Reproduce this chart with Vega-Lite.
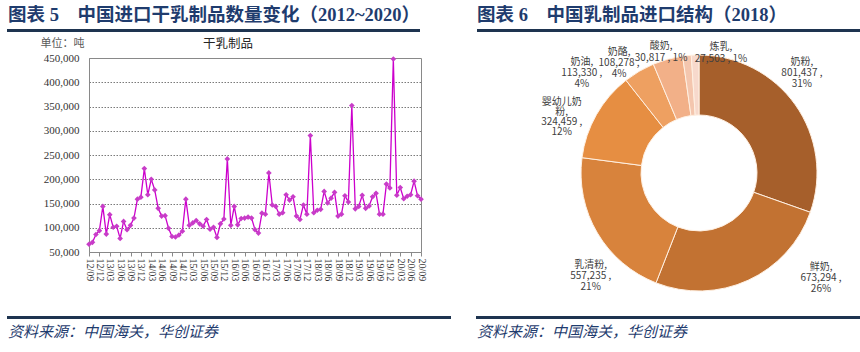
{
  "$schema": "https://vega.github.io/schema/vega-lite/v6.json",
  "padding": {"left": 7, "top": 5, "right": 0, "bottom": 5},
  "background": "white",
  "config": {"view": {"stroke": null}, "font": "Noto Sans CJK SC"},
  "datasets": {
    "dairy": [
      {"month": "12/09", "tons": 66000}, {"month": "12/10", "tons": 70000}, {"month": "12/11", "tons": 86000},
      {"month": "12/12", "tons": 94000}, {"month": "13/01", "tons": 144000}, {"month": "13/02", "tons": 87000},
      {"month": "13/03", "tons": 127000}, {"month": "13/04", "tons": 101000}, {"month": "13/05", "tons": 103000},
      {"month": "13/06", "tons": 78000}, {"month": "13/07", "tons": 113000}, {"month": "13/08", "tons": 96000},
      {"month": "13/09", "tons": 105000}, {"month": "13/10", "tons": 120000}, {"month": "13/11", "tons": 159000},
      {"month": "13/12", "tons": 163000}, {"month": "14/01", "tons": 222000}, {"month": "14/02", "tons": 168000},
      {"month": "14/03", "tons": 200000}, {"month": "14/04", "tons": 178000}, {"month": "14/05", "tons": 140000},
      {"month": "14/06", "tons": 124000}, {"month": "14/07", "tons": 125000}, {"month": "14/08", "tons": 99000},
      {"month": "14/09", "tons": 82000}, {"month": "14/10", "tons": 81000}, {"month": "14/11", "tons": 85000},
      {"month": "14/12", "tons": 93000}, {"month": "15/01", "tons": 159000}, {"month": "15/02", "tons": 105000},
      {"month": "15/03", "tons": 110000}, {"month": "15/04", "tons": 115000}, {"month": "15/05", "tons": 108000},
      {"month": "15/06", "tons": 103000}, {"month": "15/07", "tons": 117000}, {"month": "15/08", "tons": 97000},
      {"month": "15/09", "tons": 101000}, {"month": "15/10", "tons": 80000}, {"month": "15/11", "tons": 108000},
      {"month": "15/12", "tons": 118000}, {"month": "16/01", "tons": 242000}, {"month": "16/02", "tons": 105000},
      {"month": "16/03", "tons": 144000}, {"month": "16/04", "tons": 106000}, {"month": "16/05", "tons": 119000},
      {"month": "16/06", "tons": 120000}, {"month": "16/07", "tons": 122000}, {"month": "16/08", "tons": 120000},
      {"month": "16/09", "tons": 96000}, {"month": "16/10", "tons": 89000}, {"month": "16/11", "tons": 130000},
      {"month": "16/12", "tons": 128000}, {"month": "17/01", "tons": 213000}, {"month": "17/02", "tons": 147000},
      {"month": "17/03", "tons": 144000}, {"month": "17/04", "tons": 128000}, {"month": "17/05", "tons": 131000},
      {"month": "17/06", "tons": 168000}, {"month": "17/07", "tons": 157000}, {"month": "17/08", "tons": 164000},
      {"month": "17/09", "tons": 124000}, {"month": "17/10", "tons": 117000}, {"month": "17/11", "tons": 147000},
      {"month": "17/12", "tons": 128000}, {"month": "18/01", "tons": 290000}, {"month": "18/02", "tons": 131000},
      {"month": "18/03", "tons": 136000}, {"month": "18/04", "tons": 138000}, {"month": "18/05", "tons": 175000},
      {"month": "18/06", "tons": 151000}, {"month": "18/07", "tons": 161000}, {"month": "18/08", "tons": 173000},
      {"month": "18/09", "tons": 124000}, {"month": "18/10", "tons": 128000}, {"month": "18/11", "tons": 166000},
      {"month": "18/12", "tons": 153000}, {"month": "19/01", "tons": 352000}, {"month": "19/02", "tons": 139000},
      {"month": "19/03", "tons": 144000}, {"month": "19/04", "tons": 167000}, {"month": "19/05", "tons": 140000},
      {"month": "19/06", "tons": 145000}, {"month": "19/07", "tons": 164000}, {"month": "19/08", "tons": 171000},
      {"month": "19/09", "tons": 128000}, {"month": "19/10", "tons": 128000}, {"month": "19/11", "tons": 190000},
      {"month": "19/12", "tons": 182000}, {"month": "20/01", "tons": 448000}, {"month": "20/02", "tons": 167000},
      {"month": "20/03", "tons": 183000}, {"month": "20/04", "tons": 160000}, {"month": "20/05", "tons": 165000},
      {"month": "20/06", "tons": 168000}, {"month": "20/07", "tons": 196000}, {"month": "20/08", "tons": 166000},
      {"month": "20/09", "tons": 159000}
    ],
    "mix": [
      {"idx": 1, "cat": "奶粉", "value": 801437, "label": "奶粉,\n801,437 ,\n31%"},
      {"idx": 2, "cat": "鲜奶", "value": 673294, "label": "鲜奶,\n673,294 ,\n26%"},
      {"idx": 3, "cat": "乳清粉", "value": 557235, "label": "乳清粉,\n557,235 ,\n21%"},
      {"idx": 4, "cat": "婴幼儿奶粉", "value": 324459, "label": "婴幼儿奶\n粉,\n324,459 ,\n12%"},
      {"idx": 5, "cat": "奶油", "value": 113330, "label": "奶油,\n113,330 ,\n4%"},
      {"idx": 6, "cat": "奶酪", "value": 108278, "label": "奶酪,\n108,278 ,\n4%"},
      {"idx": 7, "cat": "酸奶", "value": 30817, "label": "酸奶,\n30,817 , 1%"},
      {"idx": 8, "cat": "炼乳", "value": 27503, "label": "炼乳,\n27,503 , 1%"}
    ]
  },
  "spacing": 5,
  "vconcat": [
    {
      "spacing": 57,
      "hconcat": [
        {
          "width": 413, "height": 3,
          "data": {"values": []}, "mark": "point", "encoding": {},
          "view": {"fill": "#1E3450", "stroke": null},
          "title": {"text": "图表 5　中国进口干乳制品数量变化（2012~2020）", "anchor": "start", "frame": "group", "offset": 5, "dx": 1,
            "fontSize": 18.5, "fontWeight": "bold", "font": "Liberation Serif, Noto Sans CJK SC", "color": "#1F3C6E"}
        },
        {
          "width": 383, "height": 3,
          "data": {"values": []}, "mark": "point", "encoding": {},
          "view": {"fill": "#1E3450", "stroke": null},
          "title": {"text": "图表 6　中国乳制品进口结构（2018）", "anchor": "start", "frame": "group", "offset": 5, "dx": 0,
            "fontSize": 18.5, "fontWeight": "bold", "font": "Liberation Serif, Noto Sans CJK SC", "color": "#1F3C6E"}
        }
      ]
    },
    {
      "spacing": 113,
      "hconcat": [
        {
          "width": 414, "height": 194,
          "title": {"text": "干乳制品", "anchor": "middle", "frame": "group", "offset": -13, "dx": 14,
            "fontSize": 12.5, "fontWeight": "normal", "color": "#262626"},
          "data": {"name": "dairy"},
          "resolve": {"axis": {"x": "independent", "y": "independent"}},
          "layer": [
            {
              "mark": {"type": "line", "color": "#CC00CC", "strokeWidth": 1.3},
              "encoding": {
                "x": {"field": "month", "type": "ordinal", "sort": null,
                  "scale": {"type": "point", "padding": 0, "range": [82, 414]},
                  "axis": {"orient": "bottom", "title": null,
                    "values": ["12/09","12/12","13/03","13/06","13/09","13/12","14/03","14/06","14/09","14/12","15/03","15/06","15/09","15/12","16/03","16/06","16/09","16/12","17/03","17/06","17/09","17/12","18/03","18/06","18/09","18/12","19/03","19/06","19/09","19/12","20/03","20/06","20/09"],
                    "labelAngle": 90, "labelFont": "Liberation Serif", "labelFontSize": 10, "labelColor": "#333333",
                    "labelOverlap": false, "labelPadding": 2, "tickSize": 4, "tickColor": "#898989",
                    "domainColor": "#898989", "grid": false, "minExtent": 59}},
                "y": {"field": "tons", "type": "quantitative",
                  "scale": {"domain": [50000, 450000], "nice": false, "zero": false},
                  "axis": {"orient": "left", "offset": -82, "title": "单位：吨", "titleAngle": 0, "titleX": -49, "titleY": -15, "titleAlign": "left",
                    "titleBaseline": "middle", "titleFontSize": 11, "titleFontWeight": "normal", "titleColor": "#595959",
                    "values": [50000,100000,150000,200000,250000,300000,350000,400000,450000],
                    "format": ",d", "labelFont": "Liberation Serif", "labelFontSize": 11, "labelColor": "#333333",
                    "ticks": false, "domain": true, "domainColor": "#898989", "labelPadding": 10,
                    "grid": true, "gridColor": "#7a7a7a", "gridDash": [1.5, 1.5], "gridWidth": 1}}
              }
            },
            {
              "mark": {"type": "point", "shape": "diamond", "filled": true, "size": 32, "color": "#C83CC8", "opacity": 1},
              "encoding": {
                "x": {"field": "month", "type": "ordinal", "sort": null,
                  "axis": {"orient": "top", "title": null, "labels": false, "ticks": false, "grid": false,
                    "domain": true, "domainColor": "#898989"}},
                "y": {"field": "tons", "type": "quantitative",
                  "axis": {"orient": "right", "title": null, "labels": false, "ticks": false, "grid": false,
                    "domain": true, "domainColor": "#898989"}}
              }
            }
          ]
        },
        {
          "width": 320, "height": 230,
          "data": {"name": "mix"},
          "layer": [
            {"mark": {"type": "arc", "outerRadius": 118, "innerRadius": 58, "stroke": "#FFF0E2", "strokeWidth": 1},
             "encoding": {
               "theta": {"field": "value", "type": "quantitative", "stack": true},
               "order": {"field": "idx", "type": "quantitative"},
               "color": {"field": "cat", "type": "nominal", "legend": null,
                 "scale": {"domain": ["奶粉","鲜奶","乳清粉","婴幼儿奶粉","奶油","奶酪","酸奶","炼乳"],
                           "range": ["#A65F2B","#C27232","#D8833C","#E68E42","#EEA061","#F2B088","#F4C6AE","#F7D9CC"]}}}},
            {"transform": [{"stack": "value", "groupby": [], "sort": [{"field": "idx", "order": "ascending"}], "as": ["v0", "v1"]}, {"filter": "datum.cat === '奶粉'"}],
             "mark": {"type": "text", "radius": 155, "thetaOffset": -1.184, "baseline": "top", "fontSize": 10, "lineBreak": "\n", "lineHeight": 11, "color": "#404040"},
             "encoding": {"theta": {"field": "v1", "type": "quantitative", "stack": null}, "text": {"field": "label", "type": "nominal"}}},
            {"transform": [{"stack": "value", "groupby": [], "sort": [{"field": "idx", "order": "ascending"}], "as": ["v0", "v1"]}, {"filter": "datum.cat === '鲜奶'"}],
             "mark": {"type": "text", "radius": 151, "thetaOffset": -1.314, "baseline": "top", "fontSize": 10, "lineBreak": "\n", "lineHeight": 11, "color": "#404040"},
             "encoding": {"theta": {"field": "v1", "type": "quantitative", "stack": null}, "text": {"field": "label", "type": "nominal"}}},
            {"transform": [{"stack": "value", "groupby": [], "sort": [{"field": "idx", "order": "ascending"}], "as": ["v0", "v1"]}, {"filter": "datum.cat === '乳清粉'"}],
             "mark": {"type": "text", "radius": 139, "thetaOffset": -0.808, "baseline": "top", "fontSize": 10, "lineBreak": "\n", "lineHeight": 11, "color": "#404040"},
             "encoding": {"theta": {"field": "v1", "type": "quantitative", "stack": null}, "text": {"field": "label", "type": "nominal"}}},
            {"transform": [{"stack": "value", "groupby": [], "sort": [{"field": "idx", "order": "ascending"}], "as": ["v0", "v1"]}, {"filter": "datum.cat === '婴幼儿奶粉'"}],
             "mark": {"type": "text", "radius": 157, "thetaOffset": -0.397, "baseline": "top", "fontSize": 10, "lineBreak": "\n", "lineHeight": 10, "color": "#404040"},
             "encoding": {"theta": {"field": "v1", "type": "quantitative", "stack": null}, "text": {"field": "label", "type": "nominal"}}},
            {"transform": [{"stack": "value", "groupby": [], "sort": [{"field": "idx", "order": "ascending"}], "as": ["v0", "v1"]}, {"filter": "datum.cat === '奶油'"}],
             "mark": {"type": "text", "radius": 165, "thetaOffset": -0.393, "baseline": "top", "fontSize": 10, "lineBreak": "\n", "lineHeight": 11, "color": "#404040"},
             "encoding": {"theta": {"field": "v1", "type": "quantitative", "stack": null}, "text": {"field": "label", "type": "nominal"}}},
            {"transform": [{"stack": "value", "groupby": [], "sort": [{"field": "idx", "order": "ascending"}], "as": ["v0", "v1"]}, {"filter": "datum.cat === '奶酪'"}],
             "mark": {"type": "text", "radius": 149, "thetaOffset": -0.427, "baseline": "top", "fontSize": 10, "lineBreak": "\n", "lineHeight": 11, "color": "#404040"},
             "encoding": {"theta": {"field": "v1", "type": "quantitative", "stack": null}, "text": {"field": "label", "type": "nominal"}}},
            {"transform": [{"stack": "value", "groupby": [], "sort": [{"field": "idx", "order": "ascending"}], "as": ["v0", "v1"]}, {"filter": "datum.cat === '酸奶'"}],
             "mark": {"type": "text", "radius": 137, "thetaOffset": -0.215, "baseline": "top", "fontSize": 10, "lineBreak": "\n", "lineHeight": 12, "color": "#404040"},
             "encoding": {"theta": {"field": "v1", "type": "quantitative", "stack": null}, "text": {"field": "label", "type": "nominal"}}},
            {"transform": [{"stack": "value", "groupby": [], "sort": [{"field": "idx", "order": "ascending"}], "as": ["v0", "v1"]}, {"filter": "datum.cat === '炼乳'"}],
             "mark": {"type": "text", "radius": 133, "thetaOffset": 0.166, "baseline": "top", "fontSize": 10, "lineBreak": "\n", "lineHeight": 12, "color": "#404040"},
             "encoding": {"theta": {"field": "v1", "type": "quantitative", "stack": null}, "text": {"field": "label", "type": "nominal"}}}
          ]
        }
      ]
    },
    {
      "spacing": 25,
      "hconcat": [
        {
          "width": 444, "height": 3,
          "data": {"values": []}, "mark": "point", "encoding": {},
          "view": {"fill": "#1E3450", "stroke": null},
          "title": {"text": "资料来源：中国海关，华创证券", "orient": "bottom", "anchor": "start", "frame": "group", "offset": 6, "dx": 1,
            "fontSize": 15, "fontWeight": "normal", "fontStyle": "italic", "color": "#1F3C6E"}
        },
        {
          "width": 384, "height": 3,
          "data": {"values": []}, "mark": "point", "encoding": {},
          "view": {"fill": "#1E3450", "stroke": null},
          "title": {"text": "资料来源：中国海关，华创证券", "orient": "bottom", "anchor": "start", "frame": "group", "offset": 6, "dx": 1,
            "fontSize": 15, "fontWeight": "normal", "fontStyle": "italic", "color": "#1F3C6E"}
        }
      ]
    }
  ]
}
